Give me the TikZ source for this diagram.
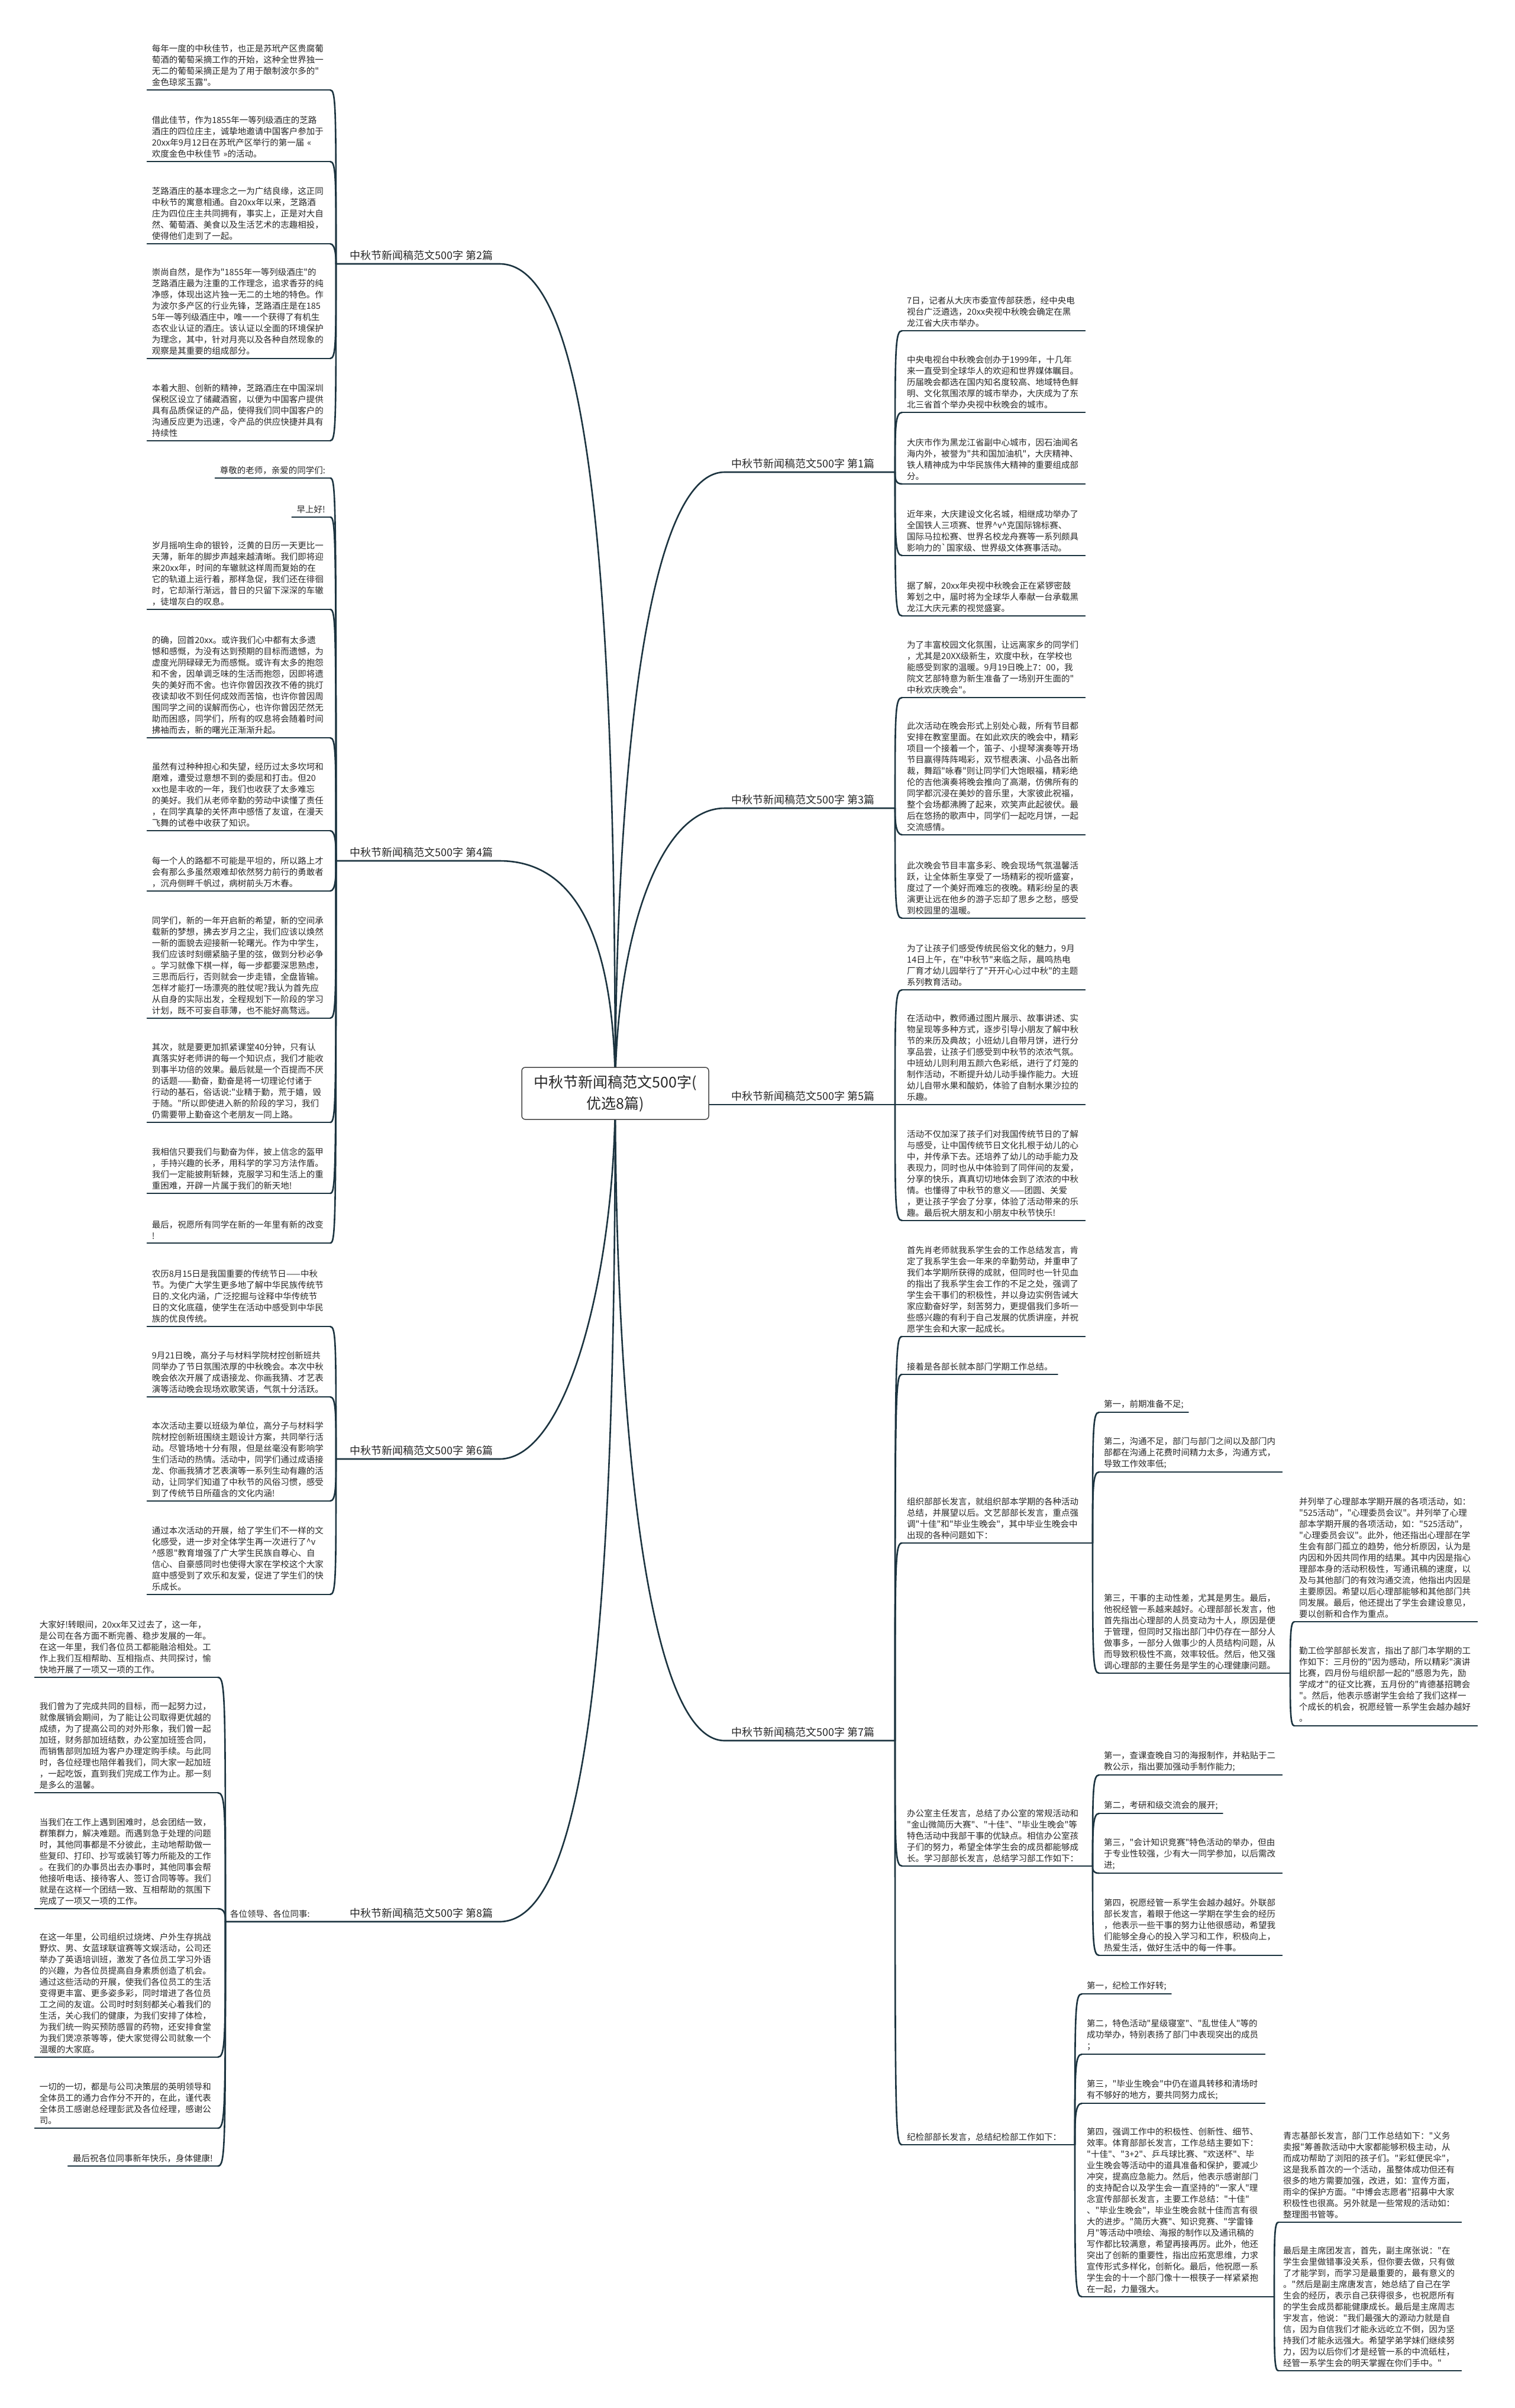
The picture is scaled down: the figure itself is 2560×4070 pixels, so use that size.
\documentclass[tikz,border=0pt]{standalone}
\usepackage{fontspec}
\newfontfamily\cjkfont{Noto Sans CJK SC}
\usetikzlibrary{calc}

\begin{document}
\begin{tikzpicture}[x=1pt, y=-1pt, line join=round, line cap=round,
    leaf/.style={font=\cjkfont\fontsize{14.5}{19}\selectfont, text=ink, align=left,
        text width=293pt, inner xsep=8pt, inner ysep=6pt},
    note/.style={font=\cjkfont\fontsize{14.5}{19}\selectfont, text=ink,
        inner xsep=8pt, inner ysep=6pt},
    topic/.style={font=\cjkfont\fontsize{18}{22}\selectfont, text=ink,
        inner xsep=11pt, inner ysep=6pt},
    hub/.style={font=\cjkfont\fontsize{25}{36}\selectfont, text=ink, align=center,
        draw=hubline, fill=white, line width=1.5pt, rounded corners=6pt,
        minimum width=316pt, minimum height=88pt},
    uline/.style={wire, line width=2pt},
    trunk/.style={wire, line width=2.6pt},
    twig/.style={wire, line width=2.6pt,
        to path={.. controls ($(\tikztostart|-\tikztotarget)!#1!(\tikztostart)$)
                 and (\tikztostart|-\tikztotarget) .. (\tikztotarget)}},
    twig/.default=28pt]

    % --- Colors ---
    \definecolor{wire}{RGB}{28, 52, 64}
    \definecolor{ink}{RGB}{40, 40, 40}
    \definecolor{hubline}{RGB}{70, 70, 70}

    % --- Canvas ---
    \useasboundingbox (0,0) rectangle (2560,4070);
    \fill[white] (0,0) rectangle (2560,4070);

    \coordinate (c0) at (1040,1848);

    % --- Junctions ---
    \coordinate (j2) at (568,446);
    \coordinate (j4) at (568,1455);
    \coordinate (j6) at (568,2466);
    \coordinate (j8) at (381,3248);
    \coordinate (j1) at (1513,798);
    \coordinate (j3) at (1513,1366);
    \coordinate (j5) at (1513,1867);
    \coordinate (j7) at (1513,2942);
    \coordinate (jo) at (1847,2608);
    \coordinate (jq) at (2181,2828);
    \coordinate (jb) at (1847,3154);
    \coordinate (jj) at (1817,3625);
    \coordinate (js) at (2154,3882);

    % --- 1. Branch labels ---
    \node[topic, anchor=south west] (t2) at (580,446) {中秋节新闻稿范文500字 第2篇};
    \node[topic, anchor=south west] (t4) at (580,1455) {中秋节新闻稿范文500字 第4篇};
    \node[topic, anchor=south west] (t6) at (580,2466) {中秋节新闻稿范文500字 第6篇};
    \node[topic, anchor=south west] (t8) at (580,3248) {中秋节新闻稿范文500字 第8篇};
    \node[topic, anchor=south west] (t1) at (1225,798) {中秋节新闻稿范文500字 第1篇};
    \node[topic, anchor=south west] (t3) at (1225,1366) {中秋节新闻稿范文500字 第3篇};
    \node[topic, anchor=south west] (t5) at (1225,1867) {中秋节新闻稿范文500字 第5篇};
    \node[topic, anchor=south west] (t7) at (1225,2942) {中秋节新闻稿范文500字 第7篇};

    % --- 2. Left leaves: 第2篇 ---
    \node[leaf, anchor=south east] (p2a) at (558,152) {每年一度的中秋佳节，也正是苏玳产区贵腐葡\\
        萄酒的葡萄采摘工作的开始，这种全世界独一\\
        无二的葡萄采摘正是为了用于酿制波尔多的"\\
        金色琼浆玉露"。};
    \node[leaf, anchor=south east] (p2b) at (558,273) {借此佳节，作为1855年一等列级酒庄的芝路\\
        酒庄的四位庄主，诚挚地邀请中国客户参加于\\
        20xx年9月12日在苏玳产区举行的第一届~«\\
        欢度金色中秋佳节~»的活动。};
    \node[leaf, anchor=south east] (p2c) at (558,412) {芝路酒庄的基本理念之一为广结良缘，这正同\\
        中秋节的寓意相通。自20xx年以来，芝路酒\\
        庄为四位庄主共同拥有，事实上，正是对大自\\
        然、葡萄酒、美食以及生活艺术的志趣相投，\\
        使得他们走到了一起。};
    \node[leaf, anchor=south east] (p2d) at (558,606) {崇尚自然，是作为"1855年一等列级酒庄"的\\
        芝路酒庄最为注重的工作理念，追求香芬的纯\\
        净感，体现出这片独一无二的土地的特色。作\\
        为波尔多产区的行业先锋，芝路酒庄是在185\\
        5年一等列级酒庄中，唯一一个获得了有机生\\
        态农业认证的酒庄。该认证以全面的环境保护\\
        为理念，其中，针对月亮以及各种自然现象的\\
        观察是其重要的组成部分。};
    \node[leaf, anchor=south east] (p2e) at (558,745) {本着大胆、创新的精神，芝路酒庄在中国深圳\\
        保税区设立了储藏酒窖，以便为中国客户提供\\
        具有品质保证的产品，使得我们同中国客户的\\
        沟通反应更为迅速，令产品的供应快捷并具有\\
        持续性};

    % --- 3. Left leaves: 第4篇 ---
    \node[note, anchor=south east] (p4a) at (558,808) {尊敬的老师，亲爱的同学们:};
    \node[note, anchor=south east] (p4b) at (558,874) {早上好!};
    \node[leaf, anchor=south east] (p4c) at (558,1030) {岁月摇响生命的银铃，泛黄的日历一天更比一\\
        天薄，新年的脚步声越来越清晰。我们即将迎\\
        来20xx年，时间的车辙就这样周而复始的在\\
        它的轨道上运行着，那样急促，我们还在徘徊\\
        时，它却渐行渐远，昔日的只留下深深的车辙\\
        ，徒增灰白的叹息。};
    \node[leaf, anchor=south east] (p4d) at (558,1247) {的确，回首20xx。或许我们心中都有太多遗\\
        憾和感慨，为没有达到预期的目标而遗憾，为\\
        虚度光阴碌碌无为而感慨。或许有太多的抱怨\\
        和不舍，因单调乏味的生活而抱怨，因即将遗\\
        失的美好而不舍。也许你曾因孜孜不倦的挑灯\\
        夜读却收不到任何成效而苦恼，也许你曾因周\\
        围同学之间的误解而伤心，也许你曾因茫然无\\
        助而困惑，同学们，所有的叹息将会随着时间\\
        拂袖而去，新的曙光正渐渐升起。};
    \node[leaf, anchor=south east] (p4e) at (558,1404) {虽然有过种种担心和失望，经历过太多坎坷和\\
        磨难，遭受过意想不到的委屈和打击。但20\\
        xx也是丰收的一年，我们也收获了太多难忘\\
        的美好。我们从老师辛勤的劳动中读懂了责任\\
        ，在同学真挚的关怀声中感悟了友谊，在漫天\\
        飞舞的试卷中收获了知识。};
    \node[leaf, anchor=south east] (p4f) at (558,1506) {每一个人的路都不可能是平坦的，所以路上才\\
        会有那么多虽然艰难却依然努力前行的勇敢者\\
        ，沉舟侧畔千帆过，病树前头万木春。};
    \node[leaf, anchor=south east] (p4g) at (558,1721) {同学们，新的一年开启新的希望，新的空间承\\
        载新的梦想，拂去岁月之尘，我们应该以焕然\\
        一新的面貌去迎接新一轮曙光。作为中学生，\\
        我们应该时刻绷紧脑子里的弦，做到分秒必争\\
        。学习就像下棋一样，每一步都要深思熟虑，\\
        三思而后行，否则就会一步走错，全盘皆输。\\
        怎样才能打一场漂亮的胜仗呢?我认为首先应\\
        从自身的实际出发，全程规划下一阶段的学习\\
        计划，既不可妄自菲薄，也不能好高骛远。};
    \node[leaf, anchor=south east] (p4h) at (558,1897) {其次，就是要更加抓紧课堂40分钟，只有认\\
        真落实好老师讲的每一个知识点，我们才能收\\
        到事半功倍的效果。最后就是一个百提而不厌\\
        的话题——勤奋，勤奋是将一切理论付诸于\\
        行动的基石，俗话说:"业精于勤，荒于嬉，毁\\
        于随。"所以即使进入新的阶段的学习，我们\\
        仍需要带上勤奋这个老朋友一同上路。};
    \node[leaf, anchor=south east] (p4i) at (558,2017) {我相信只要我们与勤奋为伴，披上信念的盔甲\\
        ，手持兴趣的长矛，用科学的学习方法作盾。\\
        我们一定能披荆斩棘，克服学习和生活上的重\\
        重困难，开辟一片属于我们的新天地!};
    \node[leaf, anchor=south east] (p4j) at (558,2101) {最后，祝愿所有同学在新的一年里有新的改变\\
        !};

    % --- 4. Left leaves: 第6篇 ---
    \node[leaf, anchor=south east] (p6a) at (558,2242) {农历8月15日是我国重要的传统节日——中秋\\
        节。为使广大学生更多地了解中华民族传统节\\
        日的.文化内涵，广泛挖掘与诠释中华传统节\\
        日的文化底蕴，使学生在活动中感受到中华民\\
        族的优良传统。};
    \node[leaf, anchor=south east] (p6b) at (558,2361) {9月21日晚，高分子与材料学院材控创新班共\\
        同举办了节日氛围浓厚的中秋晚会。本次中秋\\
        晚会依次开展了成语接龙、你画我猜、才艺表\\
        演等活动晚会现场欢歌笑语，气氛十分活跃。};
    \node[leaf, anchor=south east] (p6c) at (558,2537) {本次活动主要以班级为单位，高分子与材料学\\
        院材控创新班围绕主题设计方案，共同举行活\\
        动。尽管场地十分有限，但是丝毫没有影响学\\
        生们活动的热情。活动中，同学们通过成语接\\
        龙、你画我猜才艺表演等一系列生动有趣的活\\
        动，让同学们知道了中秋节的风俗习惯，感受\\
        到了传统节日所蕴含的文化内涵!};
    \node[leaf, anchor=south east] (p6d) at (558,2695) {通过本次活动的开展，给了学生们不一样的文\\
        化感受，进一步对全体学生再一次进行了\textasciicircum{}v\\
        \textasciicircum{}感恩"教育增强了广大学生民族自尊心、自\\
        信心、自豪感同时也使得大家在学校这个大家\\
        庭中感受到了欢乐和友爱，促进了学生们的快\\
        乐成长。};

    % --- 5. Left leaves: 第8篇 ---
    \node[note, anchor=south west] (g8) at (381,3248) {各位领导、各位同事:};
    \node[leaf, anchor=south east] (p8a) at (368,2835) {大家好!转眼间，20xx年又过去了，这一年，\\
        是公司在各方面不断完善、稳步发展的一年。\\
        在这一年里，我们各位员工都能融洽相处。工\\
        作上我们互相帮助、互相指点、共同探讨，愉\\
        快地开展了一项又一项的工作。};
    \node[leaf, anchor=south east] (p8b) at (368,3030) {我们曾为了完成共同的目标，而一起努力过，\\
        就像展销会期间，为了能让公司取得更优越的\\
        成绩，为了提高公司的对外形象，我们曾一起\\
        加班，财务部加班结数，办公室加班签合同，\\
        而销售部则加班为客户办理定购手续。与此同\\
        时，各位经理也陪伴着我们，同大家一起加班\\
        ，一起吃饭，直到我们完成工作为止。那一刻\\
        是多么的温馨。};
    \node[leaf, anchor=south east] (p8c) at (368,3226) {当我们在工作上遇到困难时，总会团结一致，\\
        群策群力，解决难题。而遇到急于处理的问题\\
        时，其他同事都是不分彼此，主动地帮助做一\\
        些复印、打印、抄写或装钉等力所能及的工作\\
        。在我们的办事员出去办事时，其他同事会帮\\
        他接听电话、接待客人、签订合同等等。我们\\
        就是在这样一个团结一致、互相帮助的氛围下\\
        完成了一项又一项的工作。};
    \node[leaf, anchor=south east] (p8d) at (368,3477) {在这一年里，公司组织过烧烤、户外生存挑战\\
        野炊、男、女蓝球联谊赛等文娱活动，公司还\\
        举办了英语培训班，激发了各位员工学习外语\\
        的兴趣，为各位员提高自身素质创造了机会。\\
        通过这些活动的开展，使我们各位员工的生活\\
        变得更丰富、更多姿多彩，同时增进了各位员\\
        工之间的友谊。公司时时刻刻都关心着我们的\\
        生活，关心我们的健康，为我们安排了体检，\\
        为我们统一购买预防感冒的药物，还安排食堂\\
        为我们煲凉茶等等，使大家觉得公司就象一个\\
        温暖的大家庭。};
    \node[leaf, anchor=south east] (p8e) at (368,3597) {一切的一切，都是与公司决策层的英明领导和\\
        全体员工的通力合作分不开的，在此，谨代表\\
        全体员工感谢总经理彭武及各位经理，感谢公\\
        司。};
    \node[note, anchor=south east] (p8f) at (368,3661) {最后祝各位同事新年快乐，身体健康!};

    % --- 6. Right leaves: 第1篇 ---
    \node[leaf, anchor=south west] (p1a) at (1525,559) {7日，记者从大庆市委宣传部获悉，经中央电\\
        视台广泛遴选，20xx央视中秋晚会确定在黑\\
        龙江省大庆市举办。};
    \node[leaf, anchor=south west] (p1b) at (1525,697) {中央电视台中秋晚会创办于1999年，十几年\\
        来一直受到全球华人的欢迎和世界媒体瞩目。\\
        历届晚会都选在国内知名度较高、地域特色鲜\\
        明、文化氛围浓厚的城市举办，大庆成为了东\\
        北三省首个举办央视中秋晚会的城市。};
    \node[leaf, anchor=south west] (p1c) at (1525,818) {大庆市作为黑龙江省副中心城市，因石油闻名\\
        海内外，被誉为"共和国加油机"，大庆精神、\\
        铁人精神成为中华民族伟大精神的重要组成部\\
        分。};
    \node[leaf, anchor=south west] (p1d) at (1525,939) {近年来，大庆建设文化名城，相继成功举办了\\
        全国铁人三项赛、世界\textasciicircum{}v\textasciicircum{}克国际锦标赛、\\
        国际马拉松赛、世界名校龙舟赛等一系列颇具\\
        影响力的`国家级、世界级文体赛事活动。};
    \node[leaf, anchor=south west] (p1e) at (1525,1041) {据了解，20xx年央视中秋晚会正在紧锣密鼓\\
        筹划之中，届时将为全球华人奉献一台承载黑\\
        龙江大庆元素的视觉盛宴。};

    % --- 7. Right leaves: 第3篇 ---
    \node[leaf, anchor=south west] (p3a) at (1525,1179) {为了丰富校园文化氛围，让远离家乡的同学们\\
        ，尤其是20XX级新生，欢度中秋，在学校也\\
        能感受到家的温暖。9月19日晚上7：00，我\\
        院文艺部特意为新生准备了一场别开生面的"\\
        中秋欢庆晚会"。};
    \node[leaf, anchor=south west] (p3b) at (1525,1411) {此次活动在晚会形式上别处心裁，所有节目都\\
        安排在教室里面。在如此欢庆的晚会中，精彩\\
        项目一个接着一个，笛子、小提琴演奏等开场\\
        节目赢得阵阵喝彩，双节棍表演、小品各出新\\
        裁，舞蹈"咏春"则让同学们大饱眼福，精彩绝\\
        伦的吉他演奏将晚会推向了高潮，仿佛所有的\\
        同学都沉浸在美妙的音乐里，大家彼此祝福，\\
        整个会场都沸腾了起来，欢笑声此起彼伏。最\\
        后在悠扬的歌声中，同学们一起吃月饼，一起\\
        交流感情。};
    \node[leaf, anchor=south west] (p3c) at (1525,1552) {此次晚会节目丰富多彩、晚会现场气氛温馨活\\
        跃，让全体新生享受了一场精彩的视听盛宴，\\
        度过了一个美好而难忘的夜晚。精彩纷呈的表\\
        演更让远在他乡的游子忘却了思乡之愁，感受\\
        到校园里的温暖。};

    % --- 8. Right leaves: 第5篇 ---
    \node[leaf, anchor=south west] (p5a) at (1525,1673) {为了让孩子们感受传统民俗文化的魅力，9月\\
        14日上午，在"中秋节"来临之际，晨鸣热电\\
        厂育才幼儿园举行了"开开心心过中秋"的主题\\
        系列教育活动。};
    \node[leaf, anchor=south west] (p5b) at (1525,1867) {在活动中，教师通过图片展示、故事讲述、实\\
        物呈现等多种方式，逐步引导小朋友了解中秋\\
        节的来历及典故；小班幼儿自带月饼，进行分\\
        享品尝，让孩子们感受到中秋节的浓浓气氛。\\
        中班幼儿则利用五颜六色彩纸，进行了灯笼的\\
        制作活动，不断提升幼儿动手操作能力。大班\\
        幼儿自带水果和酸奶，体验了自制水果沙拉的\\
        乐趣。};
    \node[leaf, anchor=south west] (p5c) at (1525,2063) {活动不仅加深了孩子们对我国传统节日的了解\\
        与感受，让中国传统节日文化扎根于幼儿的心\\
        中，并传承下去。还培养了幼儿的动手能力及\\
        表现力，同时也从中体验到了同伴间的友爱，\\
        分享的快乐，真真切切地体会到了浓浓的中秋\\
        情。也懂得了中秋节的意义——团圆、关爱\\
        ，更让孩子学会了分享，体验了活动带来的乐\\
        趣。最后祝大朋友和小朋友中秋节快乐!};

    % --- 9. Right leaves: 第7篇 ---
    \node[leaf, anchor=south west] (p7a) at (1525,2259) {首先肖老师就我系学生会的工作总结发言，肯\\
        定了我系学生会一年来的辛勤劳动，并重申了\\
        我们本学期所获得的成就，但同时也一针见血\\
        的指出了我系学生会工作的不足之处，强调了\\
        学生会干事们的积极性，并以身边实例告诫大\\
        家应勤奋好学，刻苦努力，更提倡我们多听一\\
        些感兴趣的有利于自己发展的优质讲座，并祝\\
        愿学生会和大家一起成长。};
    \node[note, anchor=south west] (p7b) at (1525,2323) {接着是各部长就本部门学期工作总结。};
    \node[leaf, anchor=south west] (p7c) at (1525,2608) {组织部部长发言，就组织部本学期的各种活动\\
        总结，并展望以后。文艺部部长发言，重点强\\
        调"十佳"和"毕业生晚会"，其中毕业生晚会中\\
        出现的各种问题如下：};
    \node[leaf, anchor=south west] (p7d) at (1525,3154) {办公室主任发言，总结了办公室的常规活动和\\
        "金山微简历大赛"、"十佳"、"毕业生晚会"等\\
        特色活动中我部干事的优缺点。相信办公室孩\\
        子们的努力，希望全体学生会的成员都能够成\\
        长。学习部部长发言，总结学习部工作如下：};
    \node[note, anchor=south west] (p7e) at (1525,3625) {纪检部部长发言，总结纪检部工作如下：};

    % 组织部
    \node[note, anchor=south west] (p7ca) at (1858,2387) {第一，前期准备不足;};
    \node[leaf, anchor=south west] (p7cb) at (1858,2488) {第二，沟通不足，部门与部门之间以及部门内\\
        部都在沟通上花费时间精力太多，沟通方式，\\
        导致工作效率低;};
    \node[leaf, anchor=south west] (p7cc) at (1858,2828) {第三，干事的主动性差，尤其是男生。最后，\\
        他祝经管一系越来越好。心理部部长发言，他\\
        首先指出心理部的人员变动为十人，原因是便\\
        于管理，但同时又指出部门中仍存在一部分人\\
        做事多，一部分人做事少的人员结构问题，从\\
        而导致积极性不高，效率较低。然后，他又强\\
        调心理部的主要任务是学生的心理健康问题。};
    \node[leaf, anchor=south west] (p7cca) at (2188,2741) {并列举了心理部本学期开展的各项活动，如：\\
        "525活动"，"心理委员会议"。并列举了心理\\
        部本学期开展的各项活动，如："525活动"，\\
        "心理委员会议"。此外，他还指出心理部在学\\
        生会有部门孤立的趋势，他分析原因，认为是\\
        内因和外因共同作用的结果。其中内因是指心\\
        理部本身的活动积极性，写通讯稿的速度，以\\
        及与其他部门的有效沟通交流，他指出内因是\\
        主要原因。希望以后心理部能够和其他部门共\\
        同发展。最后，他还提出了学生会建设意见，\\
        要以创新和合作为重点。};
    \node[leaf, anchor=south west] (p7ccb) at (2188,2917) {勤工俭学部部长发言，指出了部门本学期的工\\
        作如下：三月份的"因为感动，所以精彩"演讲\\
        比赛，四月份与组织部一起的"感恩为先，励\\
        学成才"的征文比赛，五月份的"肯德基招聘会\\
        "。然后，他表示感谢学生会给了我们这样一\\
        个成长的机会，祝愿经管一系学生会越办越好\\
        。};

    % 办公室
    \node[leaf, anchor=south west] (p7da) at (1858,3000) {第一，查课查晚自习的海报制作，并粘贴于二\\
        教公示，指出要加强动手制作能力;};
    \node[note, anchor=south west] (p7db) at (1858,3065) {第二，考研和级交流会的展开;};
    \node[leaf, anchor=south west] (p7dc) at (1858,3166) {第三，"会计知识竞赛"特色活动的举办，但由\\
        于专业性较强，少有大一同学参加，以后需改\\
        进;};
    \node[leaf, anchor=south west] (p7dd) at (1858,3305) {第四，祝愿经管一系学生会越办越好。外联部\\
        部长发言，着眼于他这一学期在学生会的经历\\
        ，他表示一些干事的努力让他很感动，希望我\\
        们能够全身心的投入学习和工作，积极向上，\\
        热爱生活，做好生活中的每一件事。};

    % 纪检部
    \node[note, anchor=south west] (p7ea) at (1829,3370) {第一，纪检工作好转;};
    \node[leaf, anchor=south west] (p7eb) at (1829,3472) {第二，特色活动"星级寝室"、"乱世佳人"等的\\
        成功举办，特别表扬了部门中表现突出的成员\\
        ；};
    \node[leaf, anchor=south west] (p7ec) at (1829,3555) {第三，"毕业生晚会"中仍在道具转移和清场时\\
        有不够好的地方，要共同努力成长;};
    \node[leaf, anchor=south west] (p7ed) at (1829,3882) {第四，强调工作中的积极性、创新性、细节、\\
        效率。体育部部长发言，工作总结主要如下：\\
        "十佳"、"3+2"、乒乓球比赛、"欢送杯"、毕\\
        业生晚会等活动中的道具准备和保护，要减少\\
        冲突，提高应急能力。然后，他表示感谢部门\\
        的支持配合以及学生会一直坚持的"一家人"理\\
        念宣传部部长发言，主要工作总结："十佳"\\
        、"毕业生晚会"，毕业生晚会就十佳而言有很\\
        大的进步。"简历大赛"、知识竞赛、"学雷锋\\
        月"等活动中喷绘、海报的制作以及通讯稿的\\
        写作都比较满意，希望再接再厉。此外，他还\\
        突出了创新的重要性，指出应拓宽思维，力求\\
        宣传形式多样化，创新化。最后，他祝愿一系\\
        学生会的十一个部门像十一根筷子一样紧紧抱\\
        在一起，力量强大。};
    \node[leaf, anchor=south west] (p7eda) at (2161,3756) {青志基部长发言，部门工作总结如下："义务\\
        卖报"筹善款活动中大家都能够积极主动，从\\
        而成功帮助了浏阳的孩子们。"彩虹便民伞"，\\
        这是我系首次的一个活动，虽整体成功但还有\\
        很多的地方需要加强，改进，如：宣传方面，\\
        雨伞的保护方面。"中博会志愿者"招募中大家\\
        积极性也很高。另外就是一些常规的活动如：\\
        整理图书管等。};
    \node[leaf, anchor=south west] (p7edb) at (2161,4007) {最后是主席团发言，首先，副主席张说："在\\
        学生会里做错事没关系，但你要去做，只有做\\
        了才能学到，而学习是最重要的，最有意义的\\
        。"然后是副主席唐发言，她总结了自己在学\\
        生会的经历，表示自己获得很多，也祝愿所有\\
        的学生会成员都能健康成长。最后是主席周志\\
        宇发言，他说："我们最强大的源动力就是自\\
        信，因为自信我们才能永远屹立不倒，因为坚\\
        持我们才能永远强大。希望学弟学妹们继续努\\
        力，因为以后你们才是经管一系的中流砥柱，\\
        经管一系学生会的明天掌握在你们手中。"};

    % --- 10. Underlines ---
    \foreach \n in {p2a,p2b,p2c,p2d,p2e,
        p4a,p4b,p4c,p4d,p4e,p4f,p4g,p4h,p4i,p4j,
        p6a,p6b,p6c,p6d,
        p8a,p8b,p8c,p8d,p8e,p8f,
        p1a,p1b,p1c,p1d,p1e,
        p3a,p3b,p3c,
        p5a,p5b,p5c,
        p7a,p7b,p7c,p7d,p7e,
        p7ca,p7cb,p7cc,p7cca,p7ccb,
        p7da,p7db,p7dc,p7dd,
        p7ea,p7eb,p7ec,p7ed,p7eda,p7edb%
    } {%
        \draw[uline] (\n.south west) -- (\n.south east);%
    }
    \draw[uline] (p7c.south east) -- (jo);
    \draw[uline] (p7cc.south east) -- (jq);
    \draw[uline] (p7d.south east) -- (jb);
    \draw[uline] (p7e.south east) -- (jj);
    \draw[uline] (p7ed.south east) -- (js);

    % --- 11. Brackets ---
    \foreach \n in {p2a,p2b,p2c,p2d,p2e} \draw[twig] (j2) to (\n.south east);
    \foreach \n in {p4a,p4b,p4c,p4d,p4e,p4f,p4g,p4h,p4i,p4j} \draw[twig] (j4) to (\n.south east);
    \foreach \n in {p6a,p6b,p6c,p6d} \draw[twig] (j6) to (\n.south east);
    \foreach \n in {p8a,p8b,p8d,p8e,p8f} \draw[twig] (j8) to (\n.south east);
    \draw[twig=12pt] (j8) to (p8c.south east);

    \foreach \n in {p1a,p1b,p1d,p1e} \draw[twig] (j1) to (\n.south west);
    \draw[twig=10pt] (j1) to (p1c.south west);
    \foreach \n in {p3a,p3b,p3c} \draw[twig] (j3) to (\n.south west);
    \foreach \n in {p5a,p5c} \draw[twig] (j5) to (\n.south west);
    \draw[trunk] (j5) -- (p5b.south west);
    \foreach \n in {p7a,p7b,p7c,p7d,p7e} \draw[twig] (j7) to (\n.south west);
    \foreach \n in {p7ca,p7cb,p7cc} \draw[twig] (jo) to (\n.south west);
    \foreach \n in {p7cca,p7ccb} \draw[twig] (jq) to (\n.south west);
    \foreach \n in {p7da,p7db,p7dd} \draw[twig] (jb) to (\n.south west);
    \draw[twig=6pt] (jb) to (p7dc.south west);
    \foreach \n in {p7ea,p7eb,p7ec,p7ed} \draw[twig] (jj) to (\n.south west);
    \foreach \n in {p7eda,p7edb} \draw[twig] (js) to (\n.south west);

    % --- 12. Main branches ---
    \draw[trunk] (j2) -- (t2.south east) .. controls (1000,446) and (1040,1000) .. (c0);
    \draw[trunk] (j4) -- (t4.south east) .. controls (960,1455) and (1040,1560) .. (c0);
    \draw[trunk] (j6) -- (t6.south east) .. controls (960,2466) and (1040,2150) .. (c0);
    \draw[trunk] (j8) -- (t8.south east) .. controls (1000,3248) and (1040,2700) .. (c0);
    \draw[trunk] (j1) -- (t1.south west) .. controls (1080,798) and (1040,1400) .. (c0);
    \draw[trunk] (j3) -- (t3.south west) .. controls (1110,1366) and (1040,1600) .. (c0);
    \draw[trunk] (j7) -- (t7.south west) .. controls (1080,2942) and (1040,2300) .. (c0);
    \draw[trunk] (j5) -- (c0 |- j5);

    % --- 13. Centre ---
    \node[hub] (hub) at (c0) {中秋节新闻稿范文500字(\\优选8篇)};

\end{tikzpicture}
\end{document}
